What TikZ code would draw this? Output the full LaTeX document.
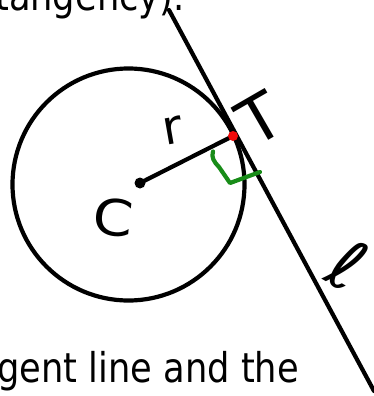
\documentclass[tikz,border=0pt]{standalone}
\usepackage{fontspec}
\setmainfont{DejaVu Sans}
\usepackage{graphicx}
\definecolor{markgreen}{RGB}{24,140,24}
\definecolor{markred}{RGB}{240,10,10}
\begin{document}
\begin{tikzpicture}[x=1bp,y=-1bp,
  stroke/.style={line width=4.2bp,line cap=round,line join=round,black},
  bigtext/.style={inner sep=0pt,font=\fontsize{41bp}{45bp}\selectfont},
  hand/.style={inner sep=0pt,text=black}]
\clip (0,0) rectangle (374,396);
\useasboundingbox (0,0) rectangle (374,396);
% coordinates
\coordinate (O) at (128.5,184.5);
\coordinate (C) at (140,183);
\coordinate (T) at (233,136);
\coordinate (l1) at (169,10);
\coordinate (l2) at (374,391);
% circle
\draw[stroke] (O) circle[radius=116bp];
% tangent line
\draw[stroke] (l1) -- (l2);
% radius
\draw[stroke] (C) -- (T);
\fill[black] (C) circle[radius=5.5bp];
\fill[markred] (T) circle[radius=5bp];
% right-angle mark
\coordinate (g1) at (213,151.5);
\coordinate (g2) at (219,167);
\coordinate (g3) at (230,183);
\coordinate (g4) at (260,172);
\draw[stroke,markgreen] (g1) .. controls (211,157) and (214,162) .. (g2) -- (g3) -- (g4);
% handwritten labels
\node[hand,rotate=10,font=\fontsize{48bp}{50bp}\selectfont] (rlab) at (173,131) {r};
\node[hand,rotate=30,font=\fontsize{64bp}{66bp}\selectfont] (Tlab) at (260,119) {T};
\node[hand,rotate=-6,font=\fontsize{50bp}{52bp}\selectfont] (Clab) at (113,217) {\scalebox{1.15}[1]{C}};
\node[hand,rotate=-30,font=\fontsize{70bp}{72bp}\selectfont] (ell) at (348,265) {ℓ};
% text lines
\node[bigtext,anchor=base west] (toptext) at (-5,10.5) {\scalebox{0.86}[1]{tangency).}};
\node[bigtext,anchor=base west] (bottext) at (-3,382) {\scalebox{0.86}[1]{gent line and the}};
\end{tikzpicture}
\end{document}
